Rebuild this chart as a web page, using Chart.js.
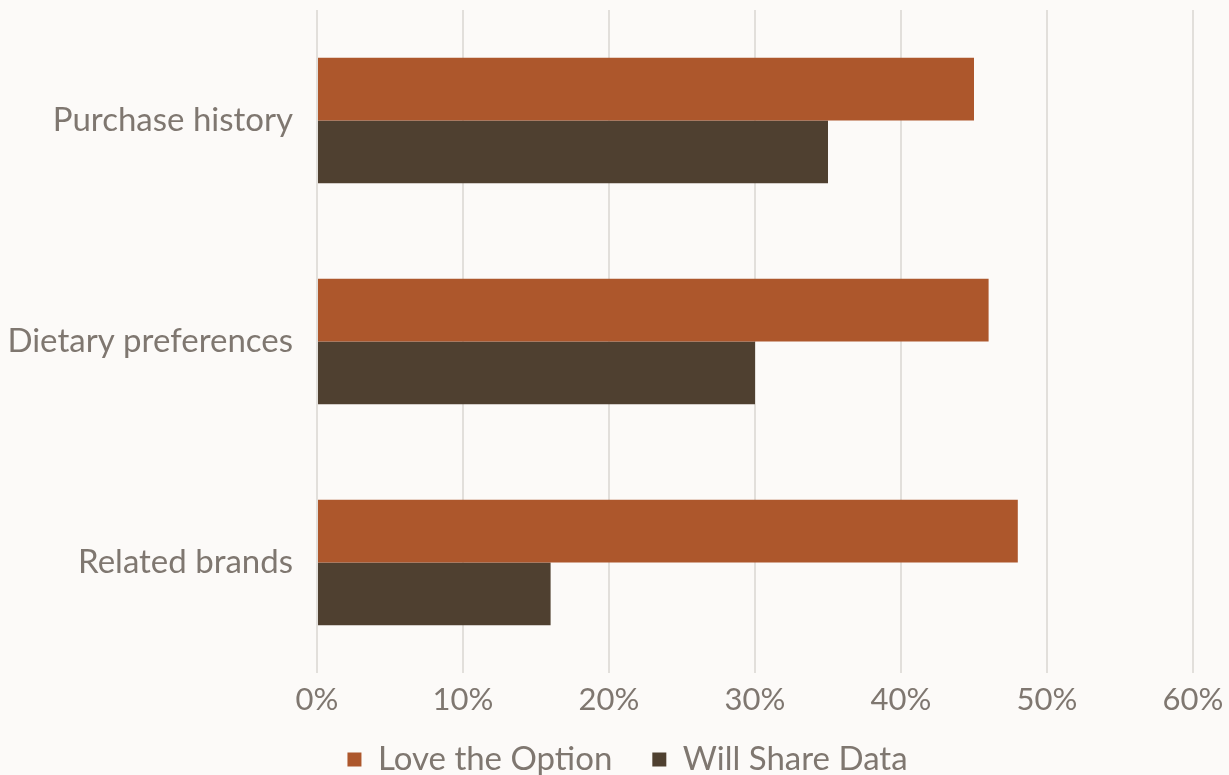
<!DOCTYPE html>
<html>
<head>
<meta charset="utf-8">
<script src="https://cdn.jsdelivr.net/npm/chart.js@4"></script>
<style>
html,body{margin:0;padding:0;background:#FCFAF8;}
#wrap{width:1229px;height:775px;position:relative;}
</style>
</head>
<body>
<div id="wrap"><canvas id="c" width="1229" height="775"></canvas></div>
<script>
const categories = ["Purchase history", "Dietary preferences", "Related brands"];
const loveTheOption = [0.45, 0.46, 0.48];
const willShareData = [0.35, 0.30, 0.16];
const seriesNames = ["Love the Option", "Will Share Data"];
const xTicks = [0, 0.1, 0.2, 0.3, 0.4, 0.5, 0.6];

const textColor = "#7F7770";
const fontFamily = "Lato, 'Noto Sans', sans-serif";

const shiftLegend = {
  id: "shiftLegend",
  afterLayout(chart) {
    const lg = chart.legend;
    if (lg) { lg.left += 31; lg.right += 31; lg.top -= 30; lg.bottom -= 30; }
  }
};

new Chart(document.getElementById("c"), {
  type: "bar",
  data: {
    labels: categories,
    datasets: [
      { label: seriesNames[0], data: loveTheOption, backgroundColor: "#AD572C" },
      { label: seriesNames[1], data: willShareData, backgroundColor: "#4F4030" }
    ]
  },
  plugins: [shiftLegend],
  options: {
    indexAxis: "y",
    responsive: false,
    animation: false,
    layout: { padding: { top: 10, right: 36, left: 0, bottom: -41 } },
    datasets: { bar: { barPercentage: 1.0, categoryPercentage: 0.567 } },
    scales: {
      x: {
        min: 0, max: 0.6,
        afterBuildTicks: (s) => { s.ticks = xTicks.map(v => ({ value: v })); },
        ticks: {
          color: textColor,
          font: { family: fontFamily, size: 31 },
          padding: 8,
          callback: (v) => Math.round(v * 100) + "%"
        },
        grid: { color: "#E2DFDB", lineWidth: 2, drawTicks: false },
        border: { display: false },
        afterFit: (s) => { s.height = 60; s.paddingLeft = 0; s.paddingRight = 0; }
      },
      y: {
        ticks: {
          color: textColor,
          font: { family: fontFamily, size: 33 },
          padding: 16
        },
        grid: { display: false },
        border: { display: false },
        afterFit: (s) => { s.width = 317; s.paddingTop = 0; s.paddingBottom = 0; }
      }
    },
    plugins: {
      legend: {
        position: "bottom",
        labels: {
          color: textColor,
          font: { family: fontFamily, size: 33 },
          boxWidth: 14, boxHeight: 14,
          padding: 40
        }
      },
      tooltip: { enabled: false }
    }
  }
});
</script>
</body>
</html>
